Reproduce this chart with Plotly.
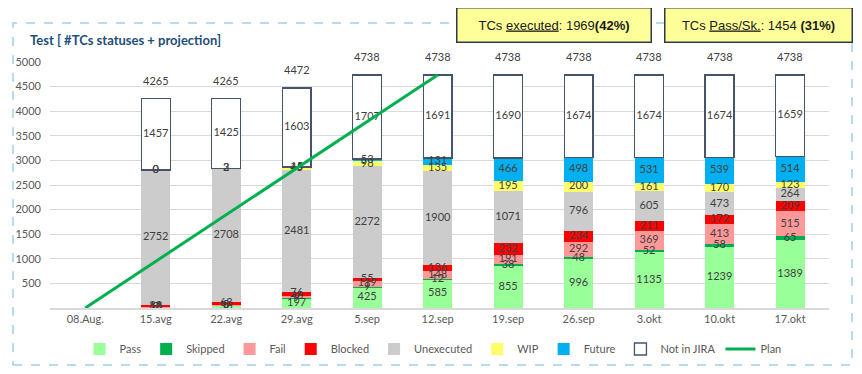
import numpy as np
import plotly.graph_objects as go

categories = ["08.Aug.", "15.avg", "22.avg", "29.avg", "5.sep", "12.sep",
              "19.sep", "26.sep", "3.okt", "10.okt", "17.okt"]
pass_vals = [None, 10, 56, 197, 425, 585, 855, 996, 1135, 1239, 1389]
skipped_vals = [None, 0, 0, 9, 9, 12, 38, 48, 52, 58, 65]
fail_vals = [None, 13, 8, 46, 119, 148, 191, 292, 369, 413, 515]
blocked_vals = [None, 33, 63, 76, 55, 136, 232, 234, 211, 172, 209]
unexecuted_vals = [None, 2752, 2708, 2481, 2272, 1900, 1071, 796, 605, 473, 264]
wip_vals = [None, 0, 2, 45, 98, 135, 195, 200, 161, 170, 123]
future_vals = [None, 0, 3, 15, 53, 131, 466, 498, 531, 539, 514]
not_in_jira_vals = [None, 1457, 1425, 1603, 1707, 1691, 1690, 1674, 1674, 1674, 1659]
total_vals = [None, 4265, 4265, 4472, 4738, 4738, 4738, 4738, 4738, 4738, 4738]
plan_vals = [0, None, None, None, None, 4738, None, None, None, None, None]

series = [
    ("Pass", pass_vals, "#99FF99"),
    ("Skipped", skipped_vals, "#00B050"),
    ("Fail", fail_vals, "#FF9999"),
    ("Blocked", blocked_vals, "#FF0000"),
    ("Unexecuted", unexecuted_vals, "#CCCCCC"),
    ("WIP", wip_vals, "#FFFF66"),
    ("Future", future_vals, "#00B0F0"),
    ("Not in JIRA", not_in_jira_vals, "#FFFFFF"),
]

# page body has an 8px margin: keep the figure inside the window (no overflow)
OFF = 8
W, H = 862 - 2 * OFF, 374 - 2 * OFF
L, T = 50 - OFF, 62 - OFF
R = W - (829 - OFF)
B = H - (308 - OFF)
pw, ph = W - L - R, H - T - B


def px(x):
    return (x - OFF - L) / pw


def py(y):
    return (H - B - (y - OFF)) / ph


FONT = "Lato, sans-serif"
fig = go.Figure()
label_font = dict(family=FONT, size=11, color="#404040")

base = np.zeros(len(categories))
label_x, label_y, label_t = [], [], []
for name, vals, color in series:
    arr = np.array([0 if v is None else v for v in vals], dtype=float)
    if name == "Not in JIRA":
        marker = dict(color="#FFFFFF", line=dict(color="#44546A", width=1.3))
    else:
        marker = dict(color=color, line=dict(width=0))
    fig.add_trace(go.Bar(x=categories, y=vals, name=name, marker=marker,
                         width=0.41, hoverinfo="skip"))
    for i, v in enumerate(vals):
        if v is not None:
            label_x.append(categories[i])
            label_y.append(base[i] + arr[i] / 2)
            label_t.append(str(v))
    base = base + arr

fig.add_trace(go.Scatter(x=label_x, y=label_y, text=label_t, mode="text",
                         textfont=label_font, showlegend=False, hoverinfo="skip"))
fig.add_trace(go.Scatter(x=categories, y=plan_vals, name="Plan", mode="lines",
                         connectgaps=True, line=dict(color="#00B050", width=3),
                         hoverinfo="skip"))

for c, v in zip(categories, total_vals):
    if v is not None:
        fig.add_annotation(x=c, y=v, text=str(v), showarrow=False,
                           yanchor="middle", yshift=18, font=label_font)

# outer dashed frame
fig.add_shape(type="rect", xref="paper", yref="paper",
              x0=px(13), x1=px(852), y0=py(365), y1=py(23),
              line=dict(color="#9DCFE8", width=1.5, dash="dash"), layer="below")

fig.add_annotation(xref="paper", yref="paper", x=px(28), y=py(40),
                   xanchor="left", yanchor="middle", showarrow=False,
                   text="<b>Test [ #TCs statuses + projection]</b>",
                   font=dict(family=FONT, size=13, color="#1F4E79"))

box_font = dict(family="Liberation Sans, Arial, sans-serif", size=13, color="#1a1a1a")
fig.add_annotation(xref="paper", yref="paper", x=px(553.5), y=py(25.5),
                   xanchor="center", yanchor="middle", showarrow=False,
                   text="TCs <u>executed</u>: 1969<b>(42%)</b>",
                   font=box_font, bgcolor="#FFFF99", bordercolor="#2F3B47",
                   borderwidth=1.5, width=191, height=31)
fig.add_annotation(xref="paper", yref="paper", x=px(758), y=py(25.5),
                   xanchor="center", yanchor="middle", showarrow=False,
                   text="TCs <u>Pass/Sk.</u>: 1454 <b>(31%)</b>",
                   font=box_font, bgcolor="#FFFF99", bordercolor="#2F3B47",
                   borderwidth=1.5, width=184, height=31)

fig.update_layout(
    width=W, height=H,
    margin=dict(l=L, r=R, t=T, b=B, autoexpand=False),
    barmode="stack", bargap=0.6,
    plot_bgcolor="white", paper_bgcolor="white",
    font=dict(family=FONT, size=11, color="#595959"),
    legend=dict(orientation="h", x=px(433), xanchor="center", y=py(349), yanchor="middle",
                font=dict(family=FONT, size=11, color="#595959"), itemwidth=30,
                tracegroupgap=0, traceorder="normal"),
    showlegend=True,
)
fig.update_xaxes(showgrid=False, showline=True, linecolor="#D9D9D9", linewidth=1.5,
                 ticks="", automargin=False,
                 tickfont=dict(family=FONT, size=11, color="#595959"))
fig.update_yaxes(range=[0, 5000], tickvals=list(range(500, 5001, 500)),
                 showgrid=True, gridcolor="#D9D9D9", zeroline=False, automargin=False,
                 showline=False, ticks="", tickfont=dict(family=FONT, size=11, color="#595959"),
                 ticklabelstandoff=8)

fig.write_html("out.html")
